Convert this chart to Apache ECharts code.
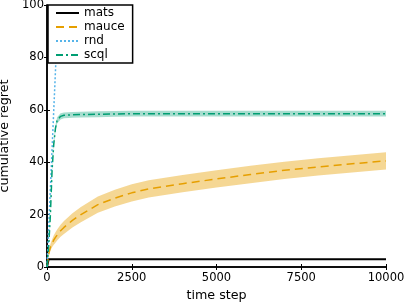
<!DOCTYPE html>
<html><head><meta charset="utf-8">
<script src="https://cdn.jsdelivr.net/npm/echarts@6/dist/echarts.min.js"></script>
<style>html,body{margin:0;padding:0;background:#fff}#c{width:407px;height:302px}</style>
</head><body><div id="c"></div>
<script>
const steps = [0, 50, 100, 150, 200, 250, 300, 400, 500, 750, 1000, 1500, 2000, 2500, 3000, 4000, 5000, 6000, 7000, 8000, 9000, 10000];
const matsMean = [0, 3, 3, 3, 3, 3, 3, 3, 3, 3, 3, 3, 3, 3, 3, 3, 3, 3, 3, 3, 3, 3];
const mauceMean = [0, 5, 7.5, 9, 10.3, 11.3, 12.2, 13.8, 15.1, 17.8, 20, 23.8, 26.3, 28.3, 29.8, 31.8, 33.6, 35.3, 36.9, 38.2, 39.4, 40.5];
const mauceHalf = [0, 1, 1.3, 1.5, 1.8, 2, 2.1, 2.3, 2.5, 2.7, 2.9, 3.1, 3.2, 3.3, 3.3, 3.3, 3.3, 3.3, 3.3, 3.3, 3.3, 3.3];
const scqlMean = [0, 8, 20, 37, 47, 53, 56, 57.5, 57.9, 58.1, 58.2, 58.3, 58.4, 58.5, 58.5, 58.5, 58.5, 58.5, 58.5, 58.5, 58.5, 58.5];
const scqlHalf = [0, 0.6, 0.8, 1, 1.1, 1.2, 1.2, 1.2, 1.1, 1.1, 1.1, 1.1, 1.1, 1.1, 1.1, 1.1, 1.1, 1.1, 1.1, 1.1, 1.1, 1.1];
const rndSteps = [0, 100, 200, 300, 400];
const rndMean = [0, 30, 60, 90, 120];
const xTicks = [0, 2500, 5000, 7500, 10000];
const yTicks = [0, 20, 40, 60, 80, 100];

const C = {mats:'#000000', mauce:'#E69F00', rnd:'#56B4E9', scql:'#009E73'};
const pairs = (xs, ys) => xs.map((x, i) => [x, ys[i]]);
const FONT = 'DejaVu Sans';

function band(name, mean, half, color, op) {
  const rows = steps.map((x, i) => [x, mean[i] - half[i], mean[i] + half[i]]);
  return {
    type:'custom', name:name+'_band', silent:true, z:1, clip:true,
    data: rows,
    encode:{x:0, y:[1,2]},
    renderItem: function(params, api) {
      if (params.dataIndex !== 0) return null;
      const upper = rows.map(r => api.coord([r[0], r[2]]));
      const lower = rows.map(r => api.coord([r[0], r[1]])).reverse();
      return {
        type:'polygon',
        shape:{points: upper.concat(lower)},
        style:{fill: color, opacity: op}
      };
    }
  };
}

const axisCommon = {
  type:'value', axisLine:{show:true, lineStyle:{color:'#000', width:1.5}},
  axisTick:{show:true, inside:true, length:3, lineStyle:{color:'#000', width:1}},
  splitLine:{show:false}
};

const chart = echarts.init(document.getElementById('c'), null, {renderer:'canvas'});
chart.setOption({
  animation:false,
  backgroundColor:'#fff',
  grid:{left:47, right:21, top:5, bottom:35, outerBoundsMode:'none', containLabel:false},
  xAxis:[
    Object.assign({}, axisCommon, {min:0, max:10000, interval:2500, position:'bottom',
      name:'time step', nameLocation:'middle', nameGap:13,
      nameTextStyle:{fontFamily:FONT, fontSize:12.7, color:'#000'},
      axisLabel:{fontFamily:FONT, fontSize:11.5, color:'#000', margin:5,
        formatter:v => xTicks.includes(v) ? String(v) : ''}}),
    Object.assign({}, axisCommon, {min:0, max:10000, interval:2500, position:'top', axisLabel:{show:false}})
  ],
  yAxis:[
    Object.assign({}, axisCommon, {min:0, max:100, interval:20, position:'left',
      name:'cumulative regret', nameLocation:'middle', nameGap:34,
      nameTextStyle:{fontFamily:FONT, fontSize:12.7, color:'#000'},
      axisLabel:{fontFamily:FONT, fontSize:11.5, color:'#000', margin:3,
        formatter:v => yTicks.includes(v) ? String(v) : ''}}),
    Object.assign({}, axisCommon, {min:0, max:100, interval:20, position:'right', axisLabel:{show:false}})
  ],
  legend:{
    data:['mats','mauce','rnd','scql'], orient:'vertical', left:48, top:5,
    itemWidth:23, itemHeight:12, itemGap:2, padding:[2,8,2,7],
    backgroundColor:'#fff', borderColor:'#000', borderWidth:1.5, borderRadius:0,
    itemStyle:{opacity:0},
    textStyle:{fontFamily:FONT, fontSize:12, color:'#000'}
  },
  series:[
    band('mauce', mauceMean, mauceHalf, C.mauce, 0.42),
    band('scql', scqlMean, scqlHalf, C.scql, 0.35),
    {type:'line', name:'mats', symbol:'none', data:pairs(steps, matsMean),
     lineStyle:{color:C.mats, width:2}, itemStyle:{color:C.mats}, z:3},
    {type:'line', name:'mauce', symbol:'none', data:pairs(steps, mauceMean),
     lineStyle:{color:C.mauce, width:1.5, type:[8,5]}, itemStyle:{color:C.mauce}, z:3},
    {type:'line', name:'rnd', symbol:'none', data:pairs(rndSteps, rndMean),
     lineStyle:{color:C.rnd, width:1.5, type:[2,2]}, itemStyle:{color:C.rnd}, z:3},
    {type:'line', name:'scql', symbol:'none', data:pairs(steps, scqlMean),
     lineStyle:{color:C.scql, width:1.5, type:[7,3,2,3]}, itemStyle:{color:C.scql}, z:3}
  ]
});
</script></body></html>
